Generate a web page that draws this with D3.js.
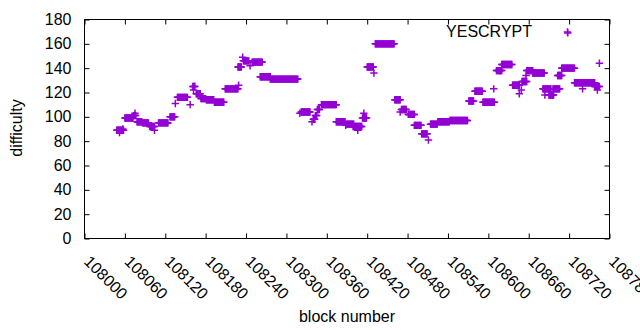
<!DOCTYPE html>
<html>
<head>
<meta charset="utf-8">
<script src="https://cdn.jsdelivr.net/npm/d3@7"></script>
<style>
body { margin: 0; background: #fff; }
text { font-family: "Liberation Sans", Arial, sans-serif; font-size: 16px; fill: #000; }
.axis path { display: none; }
.axis line { stroke: #000; }
.pt { fill: none; stroke: #9400d3; stroke-width: 1.5; }
</style>
</head>
<body>
<script>
var w = 640;
var h = 330;

// runs of blocks sharing one difficulty (single points: start == end)
var runStart = [108048, 108052, 108057, 108060, 108073, 108075, 108078, 108086, 108097, 108104,
    108110, 108127, 108135, 108138, 108157, 108161, 108162, 108166, 108173, 108181,
    108193, 108209, 108229, 108228, 108235, 108236, 108246, 108249, 108261, 108276,
    108320, 108322, 108338, 108340, 108343, 108346, 108352, 108374, 108388, 108389,
    108399, 108406, 108413, 108415, 108420, 108430, 108432, 108461, 108469, 108471,
    108481, 108490, 108501, 108511, 108514, 108525, 108543, 108571, 108572, 108580,
    108592, 108608, 108612, 108617, 108620, 108636, 108646, 108649, 108650, 108656,
    108657, 108666, 108681, 108684, 108690, 108696, 108703, 108709, 108718, 108728,
    108740, 108758, 108762, 108765];
var runEnd = [108058, 108052, 108057, 108072, 108076, 108075, 108085, 108095, 108104, 108104,
    108124, 108134, 108135, 108153, 108157, 108164, 108162, 108172, 108180, 108192,
    108207, 108228, 108229, 108233, 108235, 108244, 108246, 108264, 108276, 108317,
    108320, 108335, 108338, 108342, 108345, 108349, 108374, 108387, 108388, 108400,
    108412, 108406, 108419, 108415, 108429, 108430, 108460, 108469, 108469, 108478,
    108490, 108500, 108509, 108511, 108524, 108542, 108569, 108571, 108578, 108591,
    108609, 108608, 108620, 108617, 108635, 108646, 108646, 108649, 108657, 108656,
    108666, 108683, 108693, 108684, 108697, 108706, 108709, 108728, 108718, 108758,
    108740, 108765, 108762, 108765];
var runDifficulty = [89, 87, 90, 99, 101, 103, 96, 95, 92, 89,
    95, 100, 111, 116, 110, 125, 122, 119, 115, 114,
    112, 123, 126, 141, 149, 146, 142, 145, 133, 131,
    103, 104, 96, 98, 101, 106, 110, 96, 93, 94,
    92, 89, 99, 103, 141, 136, 160, 114, 104, 106,
    102, 93, 86, 81, 94, 96, 97, 113, 113, 121,
    112, 123, 138, 138, 143, 126, 119, 122, 129, 134,
    138, 136, 123, 118, 118, 123, 134, 140, 169, 128,
    123, 125, 122, 144];

var xTicks = [108000, 108060, 108120, 108180, 108240, 108300, 108360, 108420,
    108480, 108540, 108600, 108660, 108720, 108780];
var yTicks = [0, 20, 40, 60, 80, 100, 120, 140, 160, 180];
var seriesName = "YESCRYPT";

var points = [];
runStart.forEach((s, i) => {
    for (let b = s; b <= runEnd[i]; b++) {
        points.push({ block: b, difficulty: runDifficulty[i] });
    }
});

var svg = d3.select("body")
    .append("svg")
    .attr("width", w)
    .attr("height", h);

var plotLeft = 84.5, plotRight = 609.5, plotTop = 19.5, plotBottom = 238.5;

var x = d3.scaleLinear()
    .domain([xTicks[0], xTicks[xTicks.length - 1]])
    .range([plotLeft, plotRight]);

var y = d3.scaleLinear()
    .domain([0, 180])
    .range([plotBottom, plotTop]);

// inward ticks, mirrored on top and right
svg.append("g")
    .attr("class", "axis")
    .attr("transform", `translate(0,${plotBottom})`)
    .call(d3.axisBottom(x).tickValues(xTicks).tickSize(-5).tickSizeOuter(0).tickFormat(d3.format("d")))
    .selectAll("text")
    .attr("y", 0)
    .attr("dy", 0)
    .attr("text-anchor", "start")
    .attr("transform", "translate(-2,24) rotate(45)");

svg.append("g")
    .attr("class", "axis")
    .attr("transform", `translate(0,${plotTop})`)
    .call(d3.axisTop(x).tickValues(xTicks).tickSize(-5).tickSizeOuter(0).tickFormat(""));

svg.append("g")
    .attr("class", "axis")
    .attr("transform", `translate(${plotLeft},0)`)
    .call(d3.axisLeft(y).tickValues(yTicks).tickSize(-5).tickSizeOuter(0).tickPadding(13));

svg.append("g")
    .attr("class", "axis")
    .attr("transform", `translate(${plotRight},0)`)
    .call(d3.axisRight(y).tickValues(yTicks).tickSize(-5).tickSizeOuter(0).tickFormat(""));

svg.selectAll(".axis text").attr("font-size", null).attr("font-family", null);

svg.append("rect")
    .attr("x", plotLeft)
    .attr("y", plotTop)
    .attr("width", plotRight - plotLeft)
    .attr("height", plotBottom - plotTop)
    .attr("fill", "none")
    .attr("stroke", "#000");

function cross(px, py) {
    let s = 3.7;
    return `M${px - s},${py}H${px + s}M${px},${py - s}V${py + s}`;
}

svg.append("g")
    .selectAll("path")
    .data(points)
    .enter()
    .append("path")
    .attr("class", "pt")
    .attr("d", d => cross(x(d.block), y(d.difficulty)));

// key
svg.append("text")
    .attr("x", 532)
    .attr("y", 37)
    .attr("text-anchor", "end")
    .text(seriesName);
svg.append("path")
    .attr("class", "pt")
    .attr("d", cross(567.5, 32));

// axis titles
svg.append("text")
    .attr("text-anchor", "middle")
    .attr("transform", "translate(22,128) rotate(-90)")
    .text("difficulty");

svg.append("text")
    .attr("x", (plotLeft + plotRight) / 2)
    .attr("y", 322)
    .attr("text-anchor", "middle")
    .text("block number");
</script>
</body>
</html>
